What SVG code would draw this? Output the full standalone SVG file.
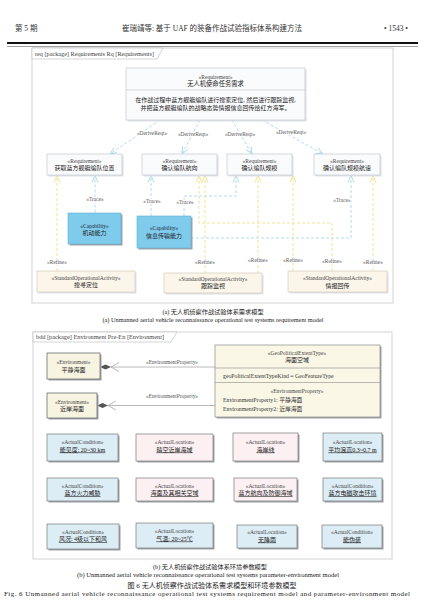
<svg xmlns="http://www.w3.org/2000/svg" width="427" height="609" viewBox="0 0 427 609">
<style>
text{font-family:"Liberation Serif","Noto Sans CJK SC",serif;fill:#333}
.s{font-size:5.5px;text-anchor:middle;fill:#444}
.n{font-size:6px;text-anchor:middle;fill:#222}
.frame{fill:none;stroke:#c9c9c9;stroke-width:0.8}
.tab{fill:#fff;stroke:#b8b8b8;stroke-width:0.6}
.req{fill:#fafbfd;stroke:#c3c8d0;stroke-width:0.7}
.shl{fill:#dfe2e8}
.cap{fill:#7fcbec;stroke:#62b0d2;stroke-width:0.6}
.shd{fill:#9ea3aa}
.act{fill:#fbf5ea;stroke:#d5ccbb;stroke-width:0.7}
.env{fill:#f8f4e2;stroke:#6e6e6e;stroke-width:0.8}
.geo{fill:#faf7e6;stroke:#8a8a8a;stroke-width:0.7}
.cb{fill:#dcedf5;stroke:#7a7a7a;stroke-width:0.7}
.cp{fill:#fcf0f3;stroke:#7a7a7a;stroke-width:0.7}
.tr{fill:none;stroke:#9ed2e6;stroke-width:0.8;stroke-dasharray:3 2}
.rf{fill:none;stroke:#f0dc78;stroke-width:0.8;stroke-dasharray:3 2}
.cm{fill:none;stroke:#a8a8a8;stroke-width:0.8}
.lbl{font-size:5.4px;text-anchor:middle;fill:#555;paint-order:stroke;stroke:#fff;stroke-width:2px}
.u{text-decoration:underline}
.cap-t{font-size:6.2px;text-anchor:middle;fill:#222}
</style>
<defs>
<marker id="ab" markerWidth="8" markerHeight="8" refX="7" refY="4" orient="auto" markerUnits="userSpaceOnUse"><path d="M0,1 L7,4 L0,7" fill="none" stroke="#9ed2e6" stroke-width="0.8"/></marker>
<marker id="ay" markerWidth="8" markerHeight="8" refX="7" refY="4" orient="auto" markerUnits="userSpaceOnUse"><path d="M0,1 L7,4 L0,7" fill="none" stroke="#f0dc78" stroke-width="0.8"/></marker>
</defs>
<rect width="427" height="609" fill="#fff"/>

<!-- page header -->
<g id="header">
<text x="15" y="30.5" style="font-size:7.5px">第 5 期</text>
<text x="212" y="30.5" style="font-size:7.5px;text-anchor:middle">崔瑞靖等: 基于 UAF 的装备作战试验指标体系构建方法</text>
<text x="408" y="30.5" style="font-size:7.5px;text-anchor:end">• 1543 •</text>
<line x1="7" y1="43" x2="418" y2="43" stroke="#111" stroke-width="1.8"/>
<line x1="7" y1="46.5" x2="418" y2="46.5" stroke="#444" stroke-width="0.5"/>
</g>

<!-- frame (a) -->
<g id="frame-a">
<rect class="frame" x="32" y="48" width="361" height="255"/>
<path class="tab" d="M32,48 L163,48 L157,59 L32,59 Z"/>
<text x="35" y="55.5" style="font-size:5.8px;fill:#444" textLength="119" lengthAdjust="spacingAndGlyphs">req [package] Requirements Rq [Requirements]</text>
</g>

<!-- connectors (a) -->
<g id="connectors-a">
<path class="tr" d="M160,120 L110,154" marker-end="url(#ab)"/>
<path class="tr" d="M200,120 L182,154" marker-end="url(#ab)"/>
<path class="tr" d="M232,120 L252,154" marker-end="url(#ab)"/>
<path class="tr" d="M262,120 L323,154" marker-end="url(#ab)"/>
<path class="tr" d="M95,212.5 L95,175.5" marker-end="url(#ab)"/>
<path class="tr" d="M151,216 L151,175.5" marker-end="url(#ab)"/>
<path class="tr" d="M184,216 L184,196 L236,196 L236,175.5" marker-end="url(#ab)"/>
<path class="tr" d="M191,238 L351,238 L351,175.5" marker-end="url(#ab)"/>
<path class="rf" d="M57,271 L57,175.5" marker-end="url(#ay)"/>
<path class="rf" d="M205,273 L205,175.5" marker-end="url(#ay)"/>
<path class="rf" d="M332,271 L332,223 L199,223 L199,175.5" marker-end="url(#ay)"/>
<path class="rf" d="M258,273 L258,175.5" marker-end="url(#ay)"/>
<path class="rf" d="M293,271 L293,175.5" marker-end="url(#ay)"/>
<path class="rf" d="M373,271 L373,175.5" marker-end="url(#ay)"/>
<text class="lbl" x="152" y="135">«DeriveReqt»</text>
<text class="lbl" x="193" y="136">«DeriveReqt»</text>
<text class="lbl" x="240" y="136">«DeriveReqt»</text>
<text class="lbl" x="291" y="134">«DeriveReqt»</text>
<text class="lbl" x="95" y="201">«Trace»</text>
<text class="lbl" x="152" y="203">«Trace»</text>
<text class="lbl" x="185" y="204">«Trace»</text>
<text class="lbl" x="342" y="202">«Trace»</text>
<text class="lbl" x="57" y="264">«Refine»</text>
<text class="lbl" x="205" y="264">«Refine»</text>
<text class="lbl" x="258" y="262">«Refine»</text>
<text class="lbl" x="293" y="262">«Refine»</text>
<text class="lbl" x="332" y="263">«Refine»</text>
<text class="lbl" x="373" y="264">«Refine»</text>
</g>

<g id="req-main">
<rect class="shl" x="127.5" y="69.5" width="179" height="52"/>
<rect class="req" x="126" y="68" width="179" height="52"/>
<line x1="126" y1="90" x2="305" y2="90" stroke="#c3c8d0" stroke-width="0.7"/>
<text class="s" x="215.5" y="78.7">«Requirement»</text>
<text class="n" x="215.5" y="86.4" style="font-size:6.3px">无人机使命任务需求</text>
<text class="n" x="215.5" y="101.5">在作战过程中蓝方舰艇编队进行搜索定位, 然后进行跟踪监视,</text>
<text class="n" x="215.5" y="109.5">并把蓝方舰艇编队的战略态势情报信息回传给红方海军。</text>
</g>
<g id="req-1">
<rect class="shl" x="48.5" y="155.5" width="75" height="21"/>
<rect class="req" x="47" y="154" width="75" height="21"/>
<text class="s" x="84.5" y="162.7">«Requirement»</text>
<text class="n" x="84.5" y="169.5">获取蓝方舰艇编队位置</text>
</g>
<g id="req-2">
<rect class="shl" x="143.5" y="155.5" width="75" height="21"/>
<rect class="req" x="142" y="154" width="75" height="21"/>
<text class="s" x="179.5" y="162.7">«Requirement»</text>
<text class="n" x="179.5" y="169.5">确认编队航向</text>
</g>
<g id="req-3">
<rect class="shl" x="228.5" y="155.5" width="65" height="21"/>
<rect class="req" x="227" y="154" width="65" height="21"/>
<text class="s" x="259.5" y="162.7">«Requirement»</text>
<text class="n" x="259.5" y="169.5">确认编队规模</text>
</g>
<g id="req-4">
<rect class="shl" x="315.5" y="155.5" width="66" height="21"/>
<rect class="req" x="314" y="154" width="66" height="21"/>
<text class="s" x="347" y="162.7">«Requirement»</text>
<text class="n" x="347" y="169.5">确认编队规模航速</text>
</g>
<g id="cap-1">
<rect class="shd" x="69.5" y="214.5" width="53" height="31"/>
<rect class="cap" x="68" y="213" width="53" height="31"/>
<text class="s" x="94.5" y="228" style="fill:#223">«Capability»</text>
<text class="n" x="94.5" y="235.3">机动能力</text>
</g>
<g id="cap-2">
<rect class="shd" x="138.5" y="217.5" width="54" height="32"/>
<rect class="cap" x="137" y="216" width="54" height="32"/>
<text class="s" x="164" y="230" style="fill:#223">«Capability»</text>
<text class="n" x="164" y="238.3">信息传输能力</text>
</g>
<g id="act-1">
<rect class="shl" x="38.5" y="272.5" width="98" height="21"/>
<rect class="act" x="37" y="271" width="98" height="21"/>
<text class="s" x="86" y="280">«StandardOperationalActivity»</text>
<text class="n" x="86" y="287.3">搜寻定位</text>
</g>
<g id="act-2">
<rect class="shl" x="165.5" y="274.5" width="98" height="20"/>
<rect class="act" x="164" y="273" width="98" height="20"/>
<text class="s" x="213" y="281">«StandardOperationalActivity»</text>
<text class="n" x="213" y="288.3">跟踪监视</text>
</g>
<g id="act-3">
<rect class="shl" x="289.5" y="272.5" width="99" height="21"/>
<rect class="act" x="288" y="271" width="99" height="21"/>
<text class="s" x="337.5" y="280">«StandardOperationalActivity»</text>
<text class="n" x="337.5" y="287.5">情报回传</text>
</g>

<g id="caption-a">
<text class="cap-t" x="213" y="314.2">(a) 无人机侦察作战试验体系需求模型</text>
<text class="cap-t" x="213" y="322.2" textLength="221" lengthAdjust="spacingAndGlyphs">(a) Unmanned aerial vehicle reconnaissance operational test systems requirement model</text>
</g>

<!-- frame (b) -->
<g id="frame-b">
<rect class="frame" x="33" y="332" width="359" height="227"/>
<path class="tab" d="M33,332 L177,332 L171,342 L33,342 Z"/>
<text x="36" y="339" style="font-size:5.8px;fill:#444" textLength="128" lengthAdjust="spacingAndGlyphs">bdd [package] Environment Pre-En [Environment]</text>
</g>

<g id="connectors-b">
<path class="cm" d="M111,367 L215,367"/>
<polygon points="100,367 105.5,364.5 111,367 105.5,369.5" fill="#555"/>
<path class="cm" d="M119,362.5 L111,367 L119,371.5"/>
<path class="cm" d="M108,405.5 L215,405.5"/>
<polygon points="97,405.5 102.5,403 108,405.5 102.5,408" fill="#555"/>
<path class="cm" d="M116,401 L108,405.5 L116,410"/>
<text class="lbl" x="172" y="364">«EnvironmentProperty»</text>
<text class="lbl" x="172" y="398">«EnvironmentProperty»</text>
</g>

<g id="env-1">
<rect class="shd" x="48.5" y="354.5" width="53" height="26"/>
<rect class="env" x="47" y="353" width="53" height="26"/>
<text class="s" x="73.5" y="364">«Environment»</text>
<text class="n" x="73.5" y="371.5">平静海面</text>
</g>
<g id="env-2">
<rect class="shd" x="48.5" y="394.5" width="50" height="25"/>
<rect class="env" x="47" y="393" width="50" height="25"/>
<text class="s" x="72" y="403.5">«Environment»</text>
<text class="n" x="72" y="411">近岸海面</text>
</g>
<g id="geo">
<rect class="shd" x="216.5" y="346.5" width="165" height="72"/>
<rect class="geo" x="215" y="345" width="165" height="72"/>
<line x1="215" y1="368" x2="380" y2="368" stroke="#8a8a8a" stroke-width="0.6"/>
<line x1="215" y1="382.5" x2="380" y2="382.5" stroke="#8a8a8a" stroke-width="0.6"/>
<text class="s" x="297" y="354.7">«GeoPoliticalExtentType»</text>
<text class="n" x="297" y="362.3">海面空域</text>
<text x="223" y="378" style="font-size:5.8px;fill:#333">geoPoliticalExtentTypeKind = GeoFeatureType</text>
<text class="s" x="297" y="393">«EnvironmentProperty»</text>
<text x="223" y="402" style="font-size:5.8px;fill:#333">EnvironmentProperty1: 平静海面</text>
<text x="223" y="411" style="font-size:5.8px;fill:#333">EnvironmentProperty2: 近岸海面</text>
</g>

<g id="c-1-1"><rect class="shd" x="48.5" y="435.5" width="71" height="27"/><rect class="cb" x="47" y="434" width="71" height="27"/><text class="s" x="82.5" y="444">«ActualCondition»</text><text class="n u" x="82.5" y="451.5">能见度: 20~30 km</text></g>
<g id="c-1-2"><rect class="shd" x="137.5" y="435.5" width="77" height="27"/><rect class="cp" x="136" y="434" width="77" height="27"/><text class="s" x="174.5" y="444">«ActualLocation»</text><text class="n u" x="174.5" y="451.5">晴空近岸海域</text></g>
<g id="c-1-3"><rect class="shd" x="234.5" y="434.5" width="65" height="28"/><rect class="cp" x="233" y="433" width="65" height="28"/><text class="s" x="265.5" y="444">«ActualLocation»</text><text class="n u" x="265.5" y="451.5">海岸线</text></g>
<g id="c-1-4"><rect class="shd" x="324.5" y="434.5" width="59" height="28"/><rect class="cb" x="323" y="433" width="59" height="28"/><text class="s" x="352.5" y="444">«ActualLocation»</text><text class="n u" x="352.5" y="451.5">平均浪高0.3~0.7 m</text></g>

<g id="c-2-1"><rect class="shd" x="48.5" y="479.5" width="71" height="23"/><rect class="cb" x="47" y="478" width="71" height="23"/><text class="s" x="82.5" y="487.8">«ActualCondition»</text><text class="n u" x="82.5" y="495.3">蓝方火力威胁</text></g>
<g id="c-2-2"><rect class="shd" x="137.5" y="479.5" width="77" height="23"/><rect class="cp" x="136" y="478" width="77" height="23"/><text class="s" x="174.5" y="487.8">«ActualLocation»</text><text class="n u" x="174.5" y="495.3">海面及其相关空域</text></g>
<g id="c-2-3"><rect class="shd" x="235.5" y="479.5" width="63" height="23"/><rect class="cp" x="234" y="478" width="63" height="23"/><text class="s" x="265.5" y="487.8">«ActualLocation»</text><text class="n u" x="265.5" y="495.3">蓝方航向及防御海域</text></g>
<g id="c-2-4"><rect class="shd" x="324.5" y="479.5" width="59" height="23"/><rect class="cb" x="323" y="478" width="59" height="23"/><text class="s" x="352.5" y="487.8">«ActualCondition»</text><text class="n u" x="352.5" y="495.3">蓝方电磁攻击环境</text></g>

<g id="c-3-1"><rect class="shd" x="48.5" y="525.5" width="72" height="25"/><rect class="cb" x="47" y="524" width="72" height="25"/><text class="s" x="83" y="533.8">«ActualCondition»</text><text class="n u" x="83" y="541.3">风况: 4级以下和风</text></g>
<g id="c-3-2"><rect class="shd" x="137.5" y="524.5" width="77" height="25"/><rect class="cb" x="136" y="523" width="77" height="25"/><text class="s" x="174.5" y="533">«ActualLocation»</text><text class="n u" x="174.5" y="540.5">气温: 20~25℃</text></g>
<g id="c-3-3"><rect class="shd" x="238.5" y="526.5" width="60" height="23"/><rect class="cb" x="237" y="525" width="60" height="23"/><text class="s" x="267" y="534">«ActualLocation»</text><text class="n u" x="267" y="541.5">无降雨</text></g>
<g id="c-3-4"><rect class="shd" x="323.5" y="526.5" width="60" height="23"/><rect class="cb" x="322" y="525" width="60" height="23"/><text class="s" x="352" y="534">«ActualCondition»</text><text class="n u" x="352" y="541.5">能伪装</text></g>

<g id="caption-b">
<text class="cap-t" x="210" y="569">(b) 无人机侦察作战试验体系环境参数模型</text>
<text class="cap-t" x="208" y="577" textLength="262" lengthAdjust="spacingAndGlyphs">(b) Unmanned aerial vehicle reconnaissance operational test systems parameter-environment model</text>
<text x="212" y="587.5" style="font-size:7px;text-anchor:middle;fill:#222" textLength="169" lengthAdjust="spacing">图 6  无人机侦察作战试验体系需求模型和环境参数模型</text>
<text x="207" y="596" style="font-size:7px;text-anchor:middle;fill:#222" textLength="406" lengthAdjust="spacing">Fig. 6   Unmanned aerial vehicle reconnaissance operational test systems requirement model and parameter-environment model</text>
</g>
</svg>
